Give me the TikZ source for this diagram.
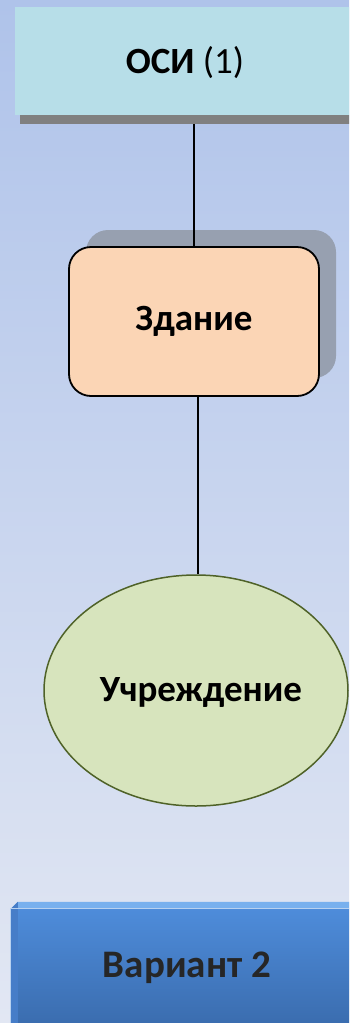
\documentclass[tikz,border=0pt]{standalone}
\usepackage{fontspec}
\setmainfont{Carlito}
\usetikzlibrary{shapes.geometric,calc}
\definecolor{bgtop}{RGB}{175,195,234}
\definecolor{bgbot}{RGB}{226,231,243}
\definecolor{osifill}{RGB}{183,222,232}
\definecolor{osishadow}{RGB}{128,128,128}
\definecolor{zdfill}{RGB}{251,213,181}
\definecolor{zdshadow}{RGB}{151,160,176}
\definecolor{ucfill}{RGB}{215,228,189}
\definecolor{ucdraw}{RGB}{79,98,40}
\definecolor{btntop}{RGB}{78,140,218}
\definecolor{btnbot}{RGB}{58,108,174}
\definecolor{btnhl}{RGB}{120,176,238}
\definecolor{btnleft}{RGB}{70,125,200}
\definecolor{btntext}{RGB}{38,38,38}
\tikzset{
  lbl/.style={font=\fontsize{37}{40}\selectfont\bfseries, text=black},
  osibox/.style={rectangle, fill=osifill, minimum width=340, minimum height=108, inner sep=0},
  zdbox/.style={rectangle, rounded corners=22, fill=zdfill, draw=black, line width=1.8, minimum width=250, minimum height=149, inner sep=0},
  ucell/.style={ellipse, fill=ucfill, draw=ucdraw, line width=1.5, minimum width=304, minimum height=231, inner sep=0},
  btn/.style={rectangle, top color=btntop, bottom color=btnbot, minimum width=352, minimum height=118, inner sep=0},
  conn/.style={draw=black, line width=1.3}
}
\begin{document}
\begin{tikzpicture}[x=1pt,y=-1pt]
\useasboundingbox (0,0) rectangle (349,1023);
\clip (0,0) rectangle (349,1023);
\shade[top color=bgtop, bottom color=bgbot] (0,0) rectangle (349,1023);
% OSI box with shadow bar
\fill[osishadow] (20,115) rectangle (360,124);
\coordinate (osish) at (194,124);
\node[osibox] (osi) at (185,61) {};
\node[lbl] (osit) at (185,63) {ОСИ {\mdseries(1)}};
% Zdanie
\fill[zdshadow, rounded corners=22] (86,230) rectangle (336,378);
\node[zdbox] (zd) at (194,321.5) {};
\node[lbl] (zdt) at (194,321) {Здание};
% Uchrezhdenie
\node[ucell] (uc) at (196,690.5) {};
\node[lbl] (uct) at (201,692) {Учреждение};
% connectors
\draw[conn] (osish) -- (zd.north);
\draw[conn] ([xshift=4]zd.south) -- ([xshift=2]uc.north);
% button
\node[btn] (bt) at (187,968) {};
\fill[btnhl] (bt.north west) -- (bt.north east) -- ([yshift=7]bt.north east) -- ([xshift=7,yshift=7]bt.north west) -- cycle;
\fill[btnleft] (bt.north west) -- ([xshift=7,yshift=7]bt.north west) -- ([xshift=7]bt.south west) -- (bt.south west) -- cycle;
\draw[white!60!btntop, line width=0.8] (bt.south west) -- (bt.north west) -- (bt.north east);
\node[lbl, text=btntext, font=\fontsize{39}{42}\selectfont\bfseries] (btt) at (187,968) {Вариант 2};
\end{tikzpicture}
\end{document}
